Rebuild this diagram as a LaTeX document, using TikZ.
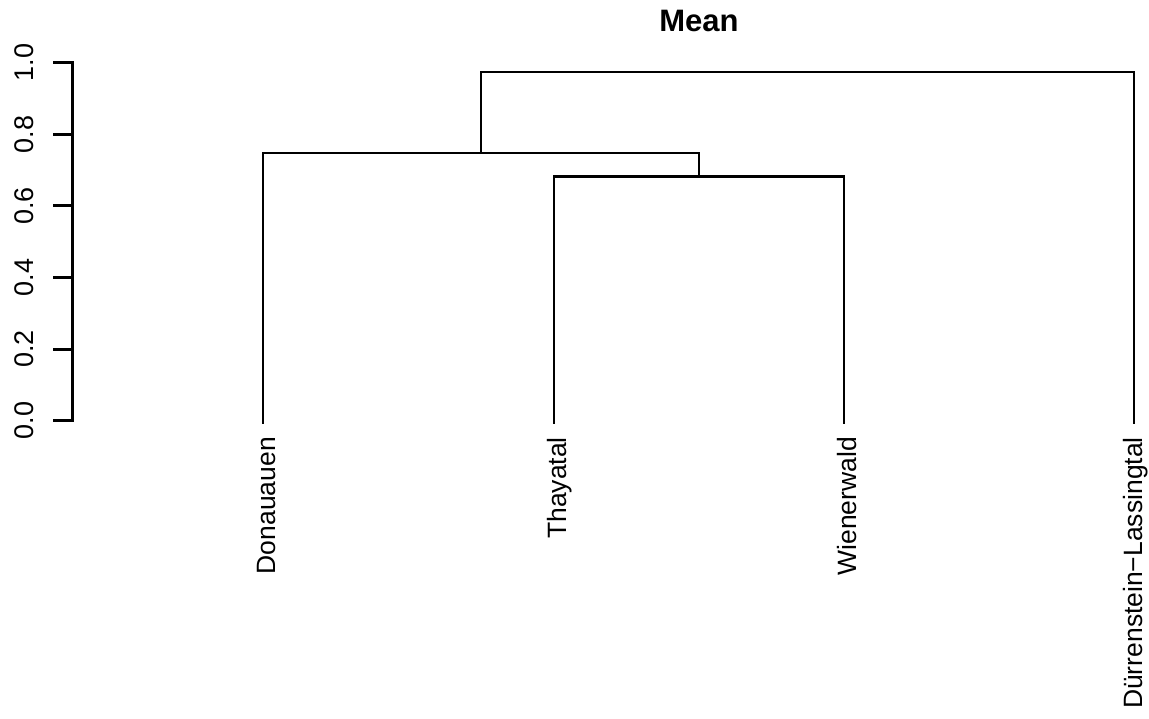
\documentclass[tikz,border=0pt]{standalone}
\usepackage{fontspec}
\setmainfont{Liberation Sans}
\begin{document}
\begin{tikzpicture}[x=1pt,y=1pt,
  tree/.style={line width=2.2pt,line cap=rect},
  axisline/.style={line width=3pt,line cap=rect},
  ticklab/.style={rotate=90,anchor=base,font=\fontsize{27}{27}\selectfont,inner sep=0pt},
  leaflab/.style={rotate=90,anchor=base east,font=\fontsize{26.5}{26.5}\selectfont,inner sep=0pt},
  titlestyle/.style={anchor=base,font=\fontsize{31}{31}\selectfont\bfseries,inner sep=0pt}]
\useasboundingbox (0,0) rectangle (1149,719);
% title
\node[titlestyle] (title) at (699,687) {Mean};
% axis
\coordinate (a0) at (72,298.3);
\coordinate (a1) at (72,656.3);
\draw[axisline] (a0) -- (a1);
\foreach \v/\l [count=\i] in {0/0.0,0.2/0.2,0.4/0.4,0.6/0.6,0.8/0.8,1/1.0}{
  \coordinate (t\i) at (72,{298.3+358*\v});
  \draw[axisline] (t\i) -- ++(-18,0);
  \node[ticklab] (tl\i) at (33,{298.3+358*\v}) {\l};
}
% leaves (bottom ends)
\coordinate (d) at (263,296);
\coordinate (t) at (554,296);
\coordinate (w) at (844,296);
\coordinate (l) at (1134,296);
% merge points
\coordinate (m1) at (699,542.5);  % Thayatal + Wienerwald
\coordinate (m2) at (481,566);    % Donauauen + m1
\coordinate (m3) at (807.5,647.3);% m2 + Duerrenstein
% tree
\draw[tree] (t) |- (m1) -| (w);
\draw[tree] (d) |- (m2) -| (m1);
\draw[tree] (m2) |- (m3) -| (l);
% leaf labels
\node[leaflab] (ld) at (275,282) {Donauauen};
\node[leaflab] (lt) at (566,282) {Thayatal};
\node[leaflab] (lw) at (856,282) {Wienerwald};
\node[leaflab] (ll) at (1142,282) {Dürrenstein−Lassingtal};
\end{tikzpicture}
\end{document}
